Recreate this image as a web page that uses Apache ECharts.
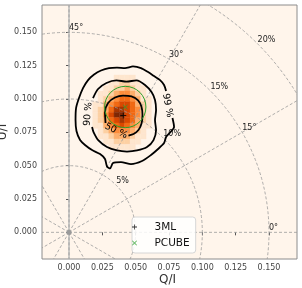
<!DOCTYPE html>
<html><head><meta charset="utf-8">
<script src="https://cdn.jsdelivr.net/npm/echarts@6/dist/echarts.min.js"></script>
<style>html,body{margin:0;padding:0;background:#fff}#c{width:302px;height:288px}</style>
</head><body><div id="c"></div>
<script>
// ---- data ----
const xTicks = [0, 0.025, 0.05, 0.075, 0.1, 0.125, 0.15];
const yTicks = [0, 0.025, 0.05, 0.075, 0.1, 0.125, 0.15];
const circleRadii = [0.05, 0.10, 0.15, 0.20];
const circleLabels = ['5%', '10%', '15%', '20%'];
const spokeAngles = [0, 30, 60, 90, 120, 150, 180, 210, 240, 270, 300, 330];
const angleLabelAngles = [0, 30, 60, 90];
const angleLabels = ['0°', '15°', '30°', '45°'];
const histQ0 = 0.0178;
const histU0 = 0.062;
const histBin = 0.004;
// colour level per bin, rows from top (highest U) to bottom
const histLevels = [
  [0,0,0,0,1,1,1,1,0,0,0,0],
  [0,0,0,1,1,2,2,1,1,0,0,0],
  [0,0,1,1,2,2,3,2,1,1,0,0],
  [0,1,1,2,3,4,4,3,2,1,0,0],
  [0,1,2,3,4,5,5,4,3,1,1,0],
  [1,1,3,4,5,6,6,5,3,2,1,0],
  [1,2,3,5,7,7,6,5,4,2,1,0],
  [1,2,4,6,8,8,6,5,4,2,1,0],
  [1,2,3,5,6,7,6,5,3,2,1,0],
  [1,1,3,4,5,6,5,4,3,1,1,0],
  [0,1,2,3,4,4,4,3,2,1,0,0],
  [0,1,1,2,3,3,3,2,1,1,0,0],
  [0,0,1,1,2,2,2,1,1,0,0,0],
  [0,0,0,1,1,1,1,1,0,0,0,0]
];
const contour50 = [[0.0274,0.0820],[0.0270,0.0902],[0.0293,0.0970],[0.0345,0.1011],[0.0405,0.1026],[0.0469,0.1019],[0.0518,0.0989],[0.0544,0.0940],[0.0551,0.0880],[0.0544,0.0816],[0.0521,0.0767],[0.0484,0.0737],[0.0446,0.0726]];
const contour90 = [[0.0180,0.1007],[0.0218,0.1075],[0.0281,0.1120],[0.0356,0.1139],[0.0431,0.1131],[0.0506,0.1139],[0.0570,0.1105],[0.0619,0.1052],[0.0645,0.0992],[0.0653,0.0917],[0.0645,0.0842],[0.0653,0.0767],[0.0634,0.0692],[0.0585,0.0640],[0.0510,0.0614],[0.0435,0.0606],[0.0360,0.0614],[0.0285,0.0640],[0.0221,0.0689],[0.0184,0.0752],[0.0173,0.0790]];
const contour99 = [[0.0776,0.0857],[0.0788,0.0790],[0.0754,0.0745],[0.0728,0.0715],[0.0713,0.0670],[0.0668,0.0625],[0.0615,0.0580],[0.0548,0.0535],[0.0465,0.0512],[0.0390,0.0527],[0.0330,0.0520],[0.0308,0.0479],[0.0285,0.0494],[0.0270,0.0550],[0.0233,0.0587],[0.0173,0.0617],[0.0120,0.0655],[0.0083,0.0692],[0.0056,0.0760],[0.0049,0.0842],[0.0053,0.0932],[0.0075,0.1007],[0.0105,0.1082],[0.0143,0.1142],[0.0188,0.1184],[0.0240,0.1214],[0.0300,0.1232],[0.0360,0.1236],[0.0420,0.1232],[0.0480,0.1244],[0.0540,0.1232],[0.0593,0.1202],[0.0638,0.1172],[0.0683,0.1142],[0.0713,0.1105],[0.0728,0.1060]];
const contourLabels = ['50 %', '90 %', '99 %'];
const contourLabelPos = [[0.0353,0.0760],[0.0143,0.0887],[0.0739,0.0951]];
const contourLabelRot = [-26, 85, -80];
const point3ML = [0.0407, 0.0877];
const pointPCUBE = [0.0422, 0.0940];
const pcubeRadius = 0.0155;

// ---- styles ----
const oranges = ['#fff5eb','#fee6ce','#fdd0a2','#fdae6b','#fd8d3c','#f16913','#d94801','#a63603','#7f2704'];
const FONT = 'DejaVu Sans';
const plusPath = 'path://M4.2,0H5.8V4.2H10V5.8H5.8V10H4.2V5.8H0V4.2H4.2Z';
const xPath = 'path://M0,1.2L1.2,0L5,3.8L8.8,0L10,1.2L6.2,5L10,8.8L8.8,10L5,6.2L1.2,10L0,8.8L3.8,5Z';

const histData = [];
histLevels.forEach((row, i) => {
  const r = histLevels.length - 1 - i;
  row.forEach((lv, c) => {
    if (lv > 0) histData.push([histQ0 + c * histBin, histU0 + r * histBin, lv]);
  });
});

const chart = echarts.init(document.getElementById('c'), null, {renderer: 'canvas'});

function clipOf(params) {
  const cs = params.coordSys;
  return {type: 'rect', shape: {x: cs.x, y: cs.y, width: cs.width, height: cs.height}};
}

function contourSeries(d) {
  return {type: 'line', data: d, showSymbol: false, symbol: 'none', smooth: 0.25, z: 4,
    lineStyle: {color: '#000', width: 1.8}, silent: true, animation: false};
}

const option = {
  animation: false,
  textStyle: {fontFamily: FONT},
  grid: {left: 42, top: 5, width: 255, height: 254, show: true, backgroundColor: '#fff5eb', borderColor: '#8c8c8c', borderWidth: 1},
  xAxis: {type: 'value', min: -0.02025, max: 0.171,
    axisLine: {show: false}, splitLine: {show: false},
    axisTick: {show: true, customValues: xTicks, length: 3, lineStyle: {color: '#555'}},
    axisLabel: {customValues: xTicks, formatter: v => v.toFixed(3), fontSize: 8, color: '#444', margin: 5, fontFamily: FONT}},
  yAxis: {type: 'value', min: -0.02, max: 0.1705,
    axisLine: {show: false}, splitLine: {show: false},
    axisTick: {show: true, customValues: yTicks, length: 3, lineStyle: {color: '#555'}},
    axisLabel: {customValues: yTicks, formatter: v => v.toFixed(3), fontSize: 8, color: '#444', margin: 5, fontFamily: FONT}},
  legend: {data: ['3ML', 'PCUBE'], orient: 'vertical', left: 132, top: 217, itemWidth: 30, itemHeight: 5, itemGap: 0,
    padding: [2, 6, 2, 0], backgroundColor: 'rgba(255,255,255,0.85)', borderColor: '#d6d6d6', borderWidth: 1, borderRadius: 3,
    selectedMode: false, textStyle: {fontSize: 10.5, color: '#111', lineHeight: 16, fontFamily: FONT}},
  graphic: [
    {type: 'text', x: 167.5, y: 280, style: {text: 'Q/I', align: 'center', verticalAlign: 'middle', font: '12px "DejaVu Sans"', fill: '#333'}},
    {type: 'text', x: 3, y: 132, rotation: Math.PI / 2, style: {text: 'U/I', align: 'center', verticalAlign: 'middle', font: '12px "DejaVu Sans"', fill: '#333'}}
  ],
  series: [
    {type: 'custom', z: 1, silent: true, data: histData,
      renderItem(params, api) {
        const q0 = api.value(0), u0 = api.value(1), lv = api.value(2);
        const p1 = api.coord([q0, u0 + histBin]);
        const p2 = api.coord([q0 + histBin, u0]);
        return {type: 'rect', shape: {x: p1[0], y: p1[1], width: p2[0] - p1[0], height: p2[1] - p1[1]},
          style: {fill: oranges[lv], stroke: oranges[lv], lineWidth: 0.4}};
      }},
    {type: 'custom', z: 2, silent: true, data: [[0, 0]],
      renderItem(params, api) {
        const o = api.coord([0, 0]);
        const children = [];
        const dash = {stroke: '#9a9a9a', lineWidth: 0.8, lineDash: [3, 2], fill: 'none'};
        const top = api.coord([0, 0.1705]), bot = api.coord([0, -0.02]);
        children.push({type: 'line', shape: {x1: o[0], y1: top[1], x2: o[0], y2: bot[1]}, style: {stroke: '#bdbdbd', lineWidth: 1.5}});
        circleRadii.forEach(r => {
          const rp = api.size([r, 0])[0];
          children.push({type: 'circle', shape: {cx: o[0], cy: o[1], r: rp}, style: Object.assign({}, dash)});
        });
        spokeAngles.forEach(a => {
          const t = a * Math.PI / 180;
          const e = api.coord([0.3 * Math.cos(t), 0.3 * Math.sin(t)]);
          children.push({type: 'line', shape: {x1: o[0], y1: o[1], x2: e[0], y2: e[1]}, style: Object.assign({}, dash)});
        });
        children.push({type: 'circle', shape: {cx: o[0], cy: o[1], r: 2.5}, style: {fill: '#9a9a9a'}});
        return {type: 'group', clipPath: clipOf(params), children};
      }},
    {type: 'custom', z: 3, silent: true, data: [[0, 0]],
      renderItem(params, api) {
        const children = [];
        angleLabelAngles.forEach((a, i) => {
          const t = a * Math.PI / 180;
          const p = api.coord([0.15 * Math.cos(t), 0.15 * Math.sin(t)]);
          children.push({type: 'text', x: p[0], y: p[1], style: {text: angleLabels[i], x: 0, y: 0, align: 'left', verticalAlign: 'bottom', textAlign: 'left', textVerticalAlign: 'bottom', font: '8px "DejaVu Sans"', fill: '#222'}});
        });
        circleRadii.forEach((r, i) => {
          const t = 45 * Math.PI / 180;
          const p = api.coord([r * Math.cos(t), r * Math.sin(t)]);
          children.push({type: 'text', x: p[0], y: p[1], style: {text: circleLabels[i], x: 0, y: 0, align: 'left', verticalAlign: 'bottom', textAlign: 'left', textVerticalAlign: 'bottom', font: '8px "DejaVu Sans"', fill: '#222'}});
        });
        return {type: 'group', children};
      }},
    contourSeries(contour50),
    contourSeries(contour90),
    contourSeries(contour99),
    {type: 'custom', z: 5, silent: true, data: contourLabelPos,
      renderItem(params, api) {
        const i = params.dataIndex;
        const p = api.coord([api.value(0), api.value(1)]);
        return {type: 'text', x: p[0], y: p[1], rotation: contourLabelRot[i] * Math.PI / 180,
          style: {text: contourLabels[i], x: 0, y: 0, align: 'center', verticalAlign: 'middle', textAlign: 'center', textVerticalAlign: 'middle', font: '9.5px "DejaVu Sans"', fill: '#000'}};
      }},
    {type: 'custom', z: 5, silent: true, data: [[pointPCUBE[0], pointPCUBE[1], pcubeRadius]],
      renderItem(params, api) {
        const c = api.coord([api.value(0), api.value(1)]);
        const r = api.size([api.value(2), 0])[0];
        return {type: 'circle', shape: {cx: c[0], cy: c[1], r: r}, style: {fill: 'none', stroke: '#2ca02c', lineWidth: 1}};
      }},
    {name: '3ML', type: 'scatter', z: 6, data: [point3ML], symbol: plusPath, symbolSize: 6, symbolKeepAspect: true,
      itemStyle: {color: '#000'}, silent: true},
    {name: 'PCUBE', type: 'scatter', z: 6, data: [pointPCUBE], symbol: xPath, symbolSize: 5, symbolKeepAspect: true,
      itemStyle: {color: '#2ca02c'}, silent: true}
  ]
};
chart.setOption(option);
</script>
</body></html>
